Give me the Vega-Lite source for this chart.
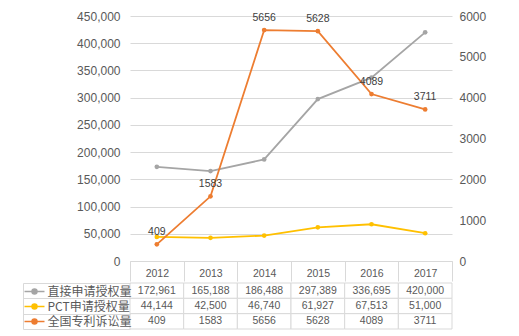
{
  "$schema": "https://vega.github.io/schema/vega-lite/v6.json",
  "background": "white",
  "padding": {"left": 22, "top": 10, "right": 5, "bottom": 4},
  "config": {"view": {"stroke": null}, "font": "Liberation Sans"},
  "datasets": {
    "d": [
      {"year": "2012", "series": "直接申请授权量", "value": 172961},
      {"year": "2013", "series": "直接申请授权量", "value": 165188},
      {"year": "2014", "series": "直接申请授权量", "value": 186488},
      {"year": "2015", "series": "直接申请授权量", "value": 297389},
      {"year": "2016", "series": "直接申请授权量", "value": 336695},
      {"year": "2017", "series": "直接申请授权量", "value": 420000},
      {"year": "2012", "series": "PCT申请授权量", "value": 44144},
      {"year": "2013", "series": "PCT申请授权量", "value": 42500},
      {"year": "2014", "series": "PCT申请授权量", "value": 46740},
      {"year": "2015", "series": "PCT申请授权量", "value": 61927},
      {"year": "2016", "series": "PCT申请授权量", "value": 67513},
      {"year": "2017", "series": "PCT申请授权量", "value": 51000},
      {"year": "2012", "series": "全国专利诉讼量", "value": 409},
      {"year": "2013", "series": "全国专利诉讼量", "value": 1583},
      {"year": "2014", "series": "全国专利诉讼量", "value": 5656},
      {"year": "2015", "series": "全国专利诉讼量", "value": 5628},
      {"year": "2016", "series": "全国专利诉讼量", "value": 4089},
      {"year": "2017", "series": "全国专利诉讼量", "value": 3711}
    ]
  },
  "spacing": 0,
  "vconcat": [
    {
      "width": 322,
      "height": 245,
      "data": {"name": "d"},
      "layer": [
        {
          "transform": [{"filter": "datum.series !== '全国专利诉讼量'"}],
          "mark": {"type": "line", "strokeWidth": 1.8, "point": {"filled": true, "size": 22}},
          "encoding": {
            "x": {
              "field": "year", "type": "ordinal", "bandPosition": 0.5,
              "scale": {"type": "band", "paddingInner": 0, "paddingOuter": 0},
              "axis": {
                "title": null, "tickBand": "extent", "tickSize": 20, "tickColor": "#d9d9d9",
                "domainColor": "#d9d9d9", "labelBaseline": "middle", "labelPadding": -8,
                "labelFontSize": 10.5, "labelColor": "#595959", "labelAngle": 0, "grid": false
              }
            },
            "y": {
              "field": "value", "type": "quantitative",
              "scale": {"domain": [0, 450000], "nice": false},
              "axis": {
                "title": null, "values": [0, 50000, 100000, 150000, 200000, 250000, 300000, 350000, 400000, 450000],
                "format": ",d", "grid": true, "gridColor": "#d9d9d9", "domain": false, "ticks": false,
                "labelPadding": 10, "labelFontSize": 12, "labelColor": "#595959"
              }
            },
            "color": {
              "field": "series", "type": "nominal",
              "scale": {"domain": ["直接申请授权量", "PCT申请授权量", "全国专利诉讼量"], "range": ["#a5a5a5", "#ffc000", "#ed7d31"]},
              "legend": {
                "orient": "none", "legendX": -101.5, "legendY": 269.5, "title": null,
                "symbolType": "M-2,0H2M0.5,0A0.5,0.5 0 1,1 -0.5,0A0.5,0.5 0 1,1 0.5,0Z",
                "symbolSize": 100, "symbolStrokeWidth": 1.5,
                "labelFontSize": 12, "labelFont": "Noto Sans CJK SC", "labelColor": "#595959",
                "labelOffset": 7, "rowPadding": 3, "padding": 0,
                "encode": {"symbols": {"update": {"fill": {"scale": "color", "field": "value"}, "stroke": {"scale": "color", "field": "value"}}}}
              }
            }
          }
        },
        {
          "transform": [{"filter": "datum.series === '全国专利诉讼量'"}],
          "layer": [
            {
              "mark": {"type": "line", "strokeWidth": 1.8, "point": {"filled": true, "size": 22}},
              "encoding": {
                "color": {"field": "series", "type": "nominal"}
              }
            },
            {
              "mark": {"type": "text", "baseline": "middle", "dy": -12, "fontSize": 10.5, "color": "#404040"},
              "encoding": {"text": {"field": "value", "type": "quantitative", "format": "d"}}
            }
          ],
          "encoding": {
            "x": {"field": "year", "type": "ordinal", "bandPosition": 0.5},
            "y": {
              "field": "value", "type": "quantitative",
              "scale": {"domain": [0, 6000], "nice": false},
              "axis": {
                "title": null, "orient": "right", "values": [0, 1000, 2000, 3000, 4000, 5000, 6000],
                "format": "d", "grid": false, "domain": false, "ticks": false,
                "labelPadding": 7, "labelFontSize": 12, "labelColor": "#595959"
              }
            }
          }
        }
      ],
      "resolve": {"scale": {"y": "independent"}}
    },
    {
      "width": 322,
      "height": 46,
      "data": {"name": "d"},
      "encoding": {
        "x": {"field": "year", "type": "ordinal", "scale": {"type": "band", "paddingInner": 0, "paddingOuter": 0}, "axis": null},
        "y": {
          "field": "series", "type": "nominal",
          "scale": {"type": "band", "domain": ["直接申请授权量", "PCT申请授权量", "全国专利诉讼量"], "paddingInner": 0, "paddingOuter": 0},
          "axis": {
            "title": null, "labels": false, "offset": 107, "domain": true, "domainColor": "#d9d9d9",
            "ticks": true, "tickBand": "extent", "tickSize": -107, "tickColor": "#d9d9d9", "grid": false
          }
        }
      },
      "layer": [
        {"mark": {"type": "rect", "fill": "white", "stroke": "#d9d9d9", "strokeWidth": 1}},
        {
          "transform": [{"filter": "datum.series !== '全国专利诉讼量'"}],
          "mark": {"type": "text", "fontSize": 10.5, "color": "#595959", "baseline": "middle"},
          "encoding": {"text": {"field": "value", "type": "quantitative", "format": ","}}
        },
        {
          "transform": [{"filter": "datum.series === '全国专利诉讼量'"}],
          "mark": {"type": "text", "fontSize": 10.5, "color": "#595959", "baseline": "middle"},
          "encoding": {"text": {"field": "value", "type": "quantitative", "format": "d"}}
        }
      ]
    }
  ]
}
